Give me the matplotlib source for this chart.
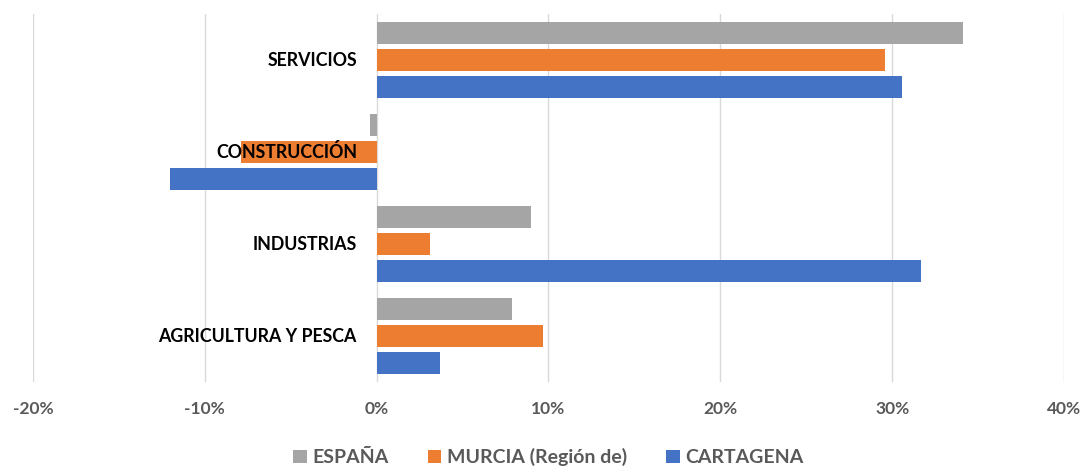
import matplotlib.pyplot as plt
from matplotlib.ticker import FuncFormatter

plt.rcParams['font.family'] = ['Lato', 'DejaVu Sans']

# categorías (de abajo hacia arriba)
categories = ['AGRICULTURA Y PESCA', 'INDUSTRIAS', 'CONSTRUCCIÓN', 'SERVICIOS']

# variación (%)
espana = [7.9, 9.0, -0.4, 34.1]
murcia = [9.7, 3.1, -7.9, 29.6]
cartagena = [3.7, 31.7, -12.0, 30.6]

series = ['ESPAÑA', 'MURCIA (Región de)', 'CARTAGENA']
colors = ['#A5A5A5', '#ED7D31', '#4472C4']

fig = plt.figure(figsize=(10.85, 4.67), dpi=100)
ax = fig.add_axes([0.0304, 0.182, 0.9502, 0.788])

pitch = 0.293
h = 0.24
y = list(range(len(categories)))
for k, (vals, name, c) in enumerate(zip([espana, murcia, cartagena], series, colors)):
    off = pitch * (1 - k)
    ax.barh([i + off for i in y], vals, height=h, color=c, label=name, zorder=2)

for i, cat in enumerate(categories):
    ax.text(-1.15, i, cat, ha='right', va='center', fontsize=12.8,
            fontweight='bold', color='black', zorder=3)

ax.set_xlim(-20, 40)
ax.set_ylim(-0.5, 3.5)
ax.set_xticks(range(-20, 41, 10))
ax.xaxis.set_major_formatter(FuncFormatter(lambda v, p: f'{v:.0f}%'))
ax.set_yticks([])
ax.grid(axis='x', color='#D9D9D9', linewidth=1, zorder=0)
for s in ax.spines.values():
    s.set_visible(False)
ax.tick_params(axis='x', length=0, pad=14, labelsize=12.5, labelcolor='#595959')
for lab in ax.get_xticklabels():
    lab.set_fontweight('bold')

leg = ax.legend(loc='center', bbox_to_anchor=(0.5, -0.205), ncol=3, frameon=False,
                handlelength=0.7, handleheight=0.7, handletextpad=0.3, columnspacing=2.0,
                prop={'size': 14, 'weight': 'bold'})
for t in leg.get_texts():
    t.set_color('#595959')

plt.savefig('out.png')
